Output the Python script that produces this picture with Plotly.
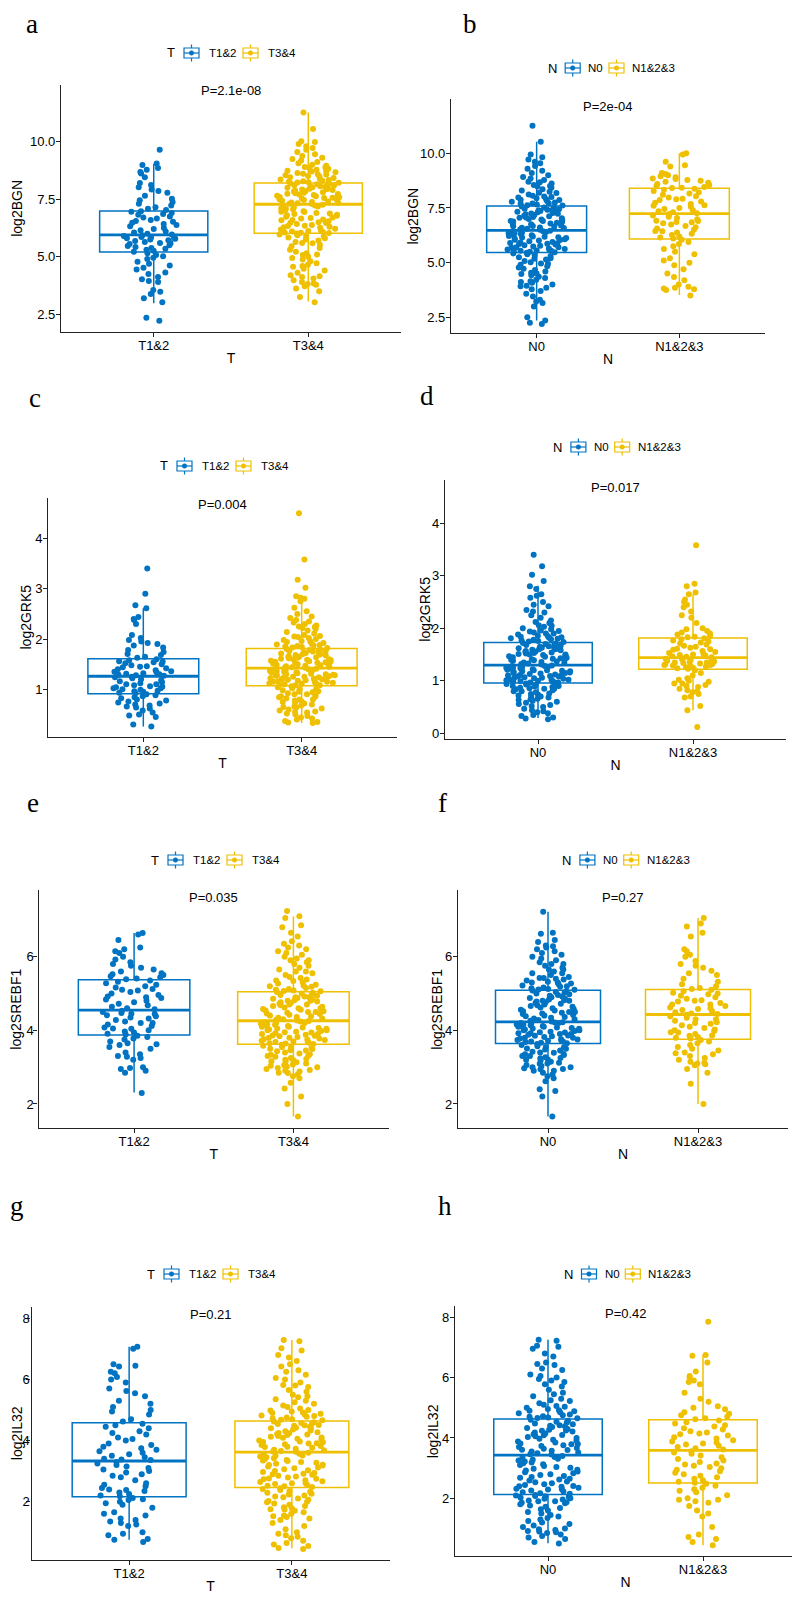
import plotly.graph_objects as go

# page body has an 8px default margin; the figure is sized to fill the rest of the window
OFF = 8
W, H = 792, 1591
BLUE = "#0073C2"
YELLOW = "#EFC000"
COLORS = [BLUE, YELLOW]
SANS = "Liberation Sans, Arial, sans-serif"
SERIF = "Liberation Serif, Times New Roman, serif"

# ---------------- categories ----------------
T_GROUPS = ["T1&2", "T3&4"]
N_GROUPS = ["N0", "N1&2&3"]
P_LABELS = ["P=2.1e-08", "P=2e-04", "P=0.004", "P=0.017", "P=0.035", "P=0.27", "P=0.21", "P=0.42"]

# ---------------- box statistics [group1, group2] ----------------
BGN_T_Q1 = [5.20, 6.02]; BGN_T_MED = [5.95, 7.28]; BGN_T_Q3 = [6.99, 8.20]; BGN_T_LO = [2.98, 3.05]; BGN_T_HI = [9.03, 11.27]
BGN_N_Q1 = [5.47, 6.08]; BGN_N_MED = [6.48, 7.24]; BGN_N_Q3 = [7.59, 8.40]; BGN_N_LO = [2.35, 3.52]; BGN_N_HI = [10.53, 10.00]
GRK_T_Q1 = [0.91, 1.07]; GRK_T_MED = [1.26, 1.42]; GRK_T_Q3 = [1.61, 1.81]; GRK_T_LO = [0.26, 0.33]; GRK_T_HI = [2.61, 2.85]
GRK_N_Q1 = [0.96, 1.22]; GRK_N_MED = [1.30, 1.44]; GRK_N_Q3 = [1.73, 1.815]; GRK_N_LO = [0.29, 0.44]; GRK_N_HI = [2.81, 2.65]
SRE_T_Q1 = [3.87, 3.62]; SRE_T_MED = [4.55, 4.26]; SRE_T_Q3 = [5.37, 5.05]; SRE_T_LO = [2.31, 1.66]; SRE_T_HI = [6.64, 7.09]
SRE_N_Q1 = [3.64, 3.76]; SRE_N_MED = [4.23, 4.43]; SRE_N_Q3 = [5.09, 5.11]; SRE_N_LO = [1.66, 2.00]; SRE_N_HI = [7.22, 7.05]
IL_T_Q1 = [2.16, 2.46]; IL_T_MED = [3.33, 3.62]; IL_T_Q3 = [4.585, 4.64]; IL_T_LO = [0.75, 0.475]; IL_T_HI = [7.07, 7.29]
IL_N_Q1 = [2.13, 2.51]; IL_N_MED = [3.43, 3.59]; IL_N_Q3 = [4.63, 4.60]; IL_N_LO = [0.51, 0.45]; IL_N_HI = [7.25, 6.75]

# ---------------- individual points ----------------
BGN_T12 = [9.65, 9.05, 8.98, 8.85, 8.78, 8.68, 8.62, 8.45, 8.2, 8.12, 8.02, 7.92, 7.85, 7.78, 7.65, 7.52, 7.45, 7.38, 7.3, 7.22, 7.15, 7.08, 7.03,
           6.98, 6.95, 6.9, 6.86, 6.82, 6.75, 6.7, 6.66, 6.6, 6.55, 6.52, 6.48, 6.42, 6.38, 6.32, 6.25, 6.2, 6.15, 6.1, 6.05, 6.0, 5.97,
           5.93, 5.9, 5.86, 5.83, 5.8, 5.78, 5.75, 5.72, 5.68, 5.64, 5.6, 5.55, 5.5, 5.47, 5.42, 5.38, 5.35, 5.3, 5.26, 5.22, 5.8, 5.58,
           5.15, 5.08, 5.02, 4.96, 4.9, 4.78, 4.7, 4.62, 4.52, 4.45, 4.32, 4.25, 4.12, 4.02, 3.95, 3.9, 3.55, 3.48, 3.38, 3.2, 3.02, 2.35, 2.22]
BGN_T34 = [11.27, 10.55, 10.02, 9.98, 9.9, 9.8, 9.72, 9.65, 9.55, 9.45, 9.38, 9.3, 9.25, 9.18, 9.12, 9.06, 9.0, 8.95, 8.9, 8.86, 8.82, 8.78, 8.74, 8.7, 8.67, 8.64, 8.6, 8.57, 8.54, 8.51, 8.48, 8.45, 8.42, 8.39, 8.36, 8.33, 8.3, 8.28, 8.26, 8.24, 8.22, 8.21, 8.72, 8.58, 8.88,
           8.19, 8.17, 8.15, 8.13, 8.11, 8.09, 8.06, 8.04, 8.02, 8.0, 7.97, 7.95, 7.93, 7.9, 7.88, 7.86, 7.83, 7.8, 7.78, 7.76, 7.73, 7.7, 7.68, 7.66, 7.63, 7.6, 7.58, 7.56, 7.53, 7.5, 7.48, 7.46, 7.43, 7.4, 7.38, 7.36, 7.34, 7.32, 7.3, 7.29, 7.92, 7.74, 7.55, 8.05, 7.65,
           7.26, 7.22, 7.18, 7.14, 7.1, 7.06, 7.02, 6.98, 6.94, 6.9, 6.86, 6.82, 6.78, 6.74, 6.7, 6.66, 6.62, 6.58, 6.54, 6.5, 6.46, 6.42, 6.38, 6.34, 6.3, 6.26, 6.22, 6.18, 6.14, 6.1, 6.07, 6.04, 6.03, 7.08, 6.88, 6.68, 6.48, 6.28, 6.12, 7.2, 6.95, 6.6, 6.35, 6.05, 6.8,
           6.01, 5.97, 5.93, 5.88, 5.84, 5.8, 5.75, 5.7, 5.64, 5.58, 5.52, 5.45, 5.38, 5.3, 5.22, 5.15, 5.08, 5.0, 4.94, 4.88, 4.8, 4.72, 4.65, 4.56, 4.48, 4.4, 4.3, 4.2, 4.12, 4.05, 3.98, 3.9, 3.84, 3.78, 3.72, 3.62, 3.5, 3.25, 3.02, 5.9, 5.6, 5.1, 4.6, 4.15, 3.82]
BGN_N0 = [11.26, 10.53, 9.95, 9.82, 9.72, 9.62, 9.55, 9.3, 9.2, 9.1, 9.0, 8.92, 8.85, 8.78, 8.7, 8.62, 8.55, 8.48, 8.42, 8.36, 8.3, 8.24, 8.18, 8.12, 8.06, 8.02, 7.98, 7.94, 7.9, 7.86, 7.82, 7.78, 7.75, 7.72, 7.69, 7.66, 7.63, 7.61, 8.5, 8.2, 7.88, 8.68, 9.42, 8.0, 7.7,
          7.57, 7.55, 7.52, 7.5, 7.47, 7.44, 7.42, 7.39, 7.36, 7.33, 7.3, 7.27, 7.24, 7.21, 7.18, 7.15, 7.12, 7.09, 7.06, 7.03, 7.0, 6.97, 6.94, 6.91, 6.88, 6.85, 6.82, 6.79, 6.76, 6.73, 6.7, 6.67, 6.64, 6.61, 6.58, 6.55, 6.52, 6.5, 7.25, 7.05, 6.9, 6.68, 7.4, 6.6, 7.32,
          6.46, 6.44, 6.42, 6.4, 6.37, 6.34, 6.31, 6.28, 6.25, 6.22, 6.19, 6.16, 6.13, 6.1, 6.07, 6.04, 6.01, 5.98, 5.95, 5.92, 5.89, 5.86, 5.83, 5.8, 5.77, 5.74, 5.71, 5.68, 5.65, 5.62, 5.6, 5.58, 5.56, 5.54, 5.52, 5.5, 5.48, 6.2, 5.9, 5.7, 6.35, 6.05, 5.85, 5.55, 6.15,
          5.45, 5.42, 5.38, 5.34, 5.3, 5.25, 5.2, 5.14, 5.08, 5.02, 4.96, 4.9, 4.84, 4.78, 4.72, 4.66, 4.6, 4.54, 4.48, 4.42, 4.36, 4.3, 4.22, 4.15, 4.08, 4.0, 3.92, 3.85, 3.78, 3.7, 3.58, 3.45, 3.3, 3.22, 3.15, 3.0, 2.5, 2.35, 2.25, 2.2, 4.95, 4.5, 4.12, 5.18, 3.95]
BGN_N123 = [10.0, 9.95, 9.62, 9.45, 9.4, 9.1, 9.05, 9.0, 8.95, 8.9, 8.85, 8.82, 8.78, 8.74, 8.7, 8.65, 8.6, 8.55, 8.5, 8.46, 8.43, 8.41,
            8.38, 8.33, 8.28, 8.22, 8.16, 8.1, 8.04, 7.98, 7.92, 7.86, 7.8, 7.74, 7.68, 7.62, 7.56, 7.5, 7.45, 7.4, 7.35, 7.3, 7.26, 7.9, 7.6,
            7.22, 7.16, 7.1, 7.04, 6.98, 6.92, 6.86, 6.8, 6.74, 6.68, 6.62, 6.56, 6.5, 6.44, 6.38, 6.32, 6.26, 6.2, 6.15, 6.1, 6.85, 6.45, 6.9,
            6.05, 5.95, 5.85, 5.75, 5.62, 5.5, 5.38, 5.2, 5.1, 5.0, 4.88, 4.7, 4.5, 4.35, 4.2, 4.0, 3.9, 3.85, 3.82, 3.78, 3.75, 3.5]

GRK_T12 = [3.4, 2.9, 2.67, 2.61, 2.44, 2.4, 2.38, 2.3, 2.08, 2.02, 1.98, 1.95, 1.92, 1.9, 1.87, 1.83, 1.78, 1.74, 1.7, 1.68, 1.65, 1.63,
           1.6, 1.58, 1.56, 1.54, 1.52, 1.5, 1.48, 1.46, 1.44, 1.42, 1.4, 1.38, 1.36, 1.34, 1.32, 1.31, 1.3, 1.29, 1.28, 1.27, 1.45, 1.35, 1.55,
           1.25, 1.24, 1.22, 1.2, 1.18, 1.16, 1.14, 1.12, 1.1, 1.08, 1.06, 1.05, 1.04, 1.02, 1.0, 0.99, 0.97, 0.96, 0.95, 0.93, 0.92, 1.1, 1.02,
           0.9, 0.88, 0.86, 0.84, 0.82, 0.8, 0.78, 0.76, 0.74, 0.72, 0.7, 0.68, 0.66, 0.64, 0.62, 0.58, 0.54, 0.5, 0.48, 0.45, 0.3, 0.26]
GRK_T34 = [4.5, 3.58, 3.18, 3.02, 2.85, 2.82, 2.8, 2.75, 2.62, 2.55, 2.5, 2.45, 2.42, 2.38, 2.33, 2.3, 2.27, 2.24, 2.22, 2.2, 2.17, 2.14, 2.11, 2.08, 2.06, 2.04, 2.02, 2.0, 1.98, 1.96, 1.94, 1.92, 1.9, 1.89, 1.88, 1.87, 1.86, 1.85, 1.84, 1.83, 1.82, 2.25, 2.05, 1.95, 2.35,
           1.8, 1.79, 1.78, 1.77, 1.76, 1.75, 1.74, 1.73, 1.72, 1.71, 1.7, 1.69, 1.68, 1.67, 1.66, 1.65, 1.64, 1.63, 1.62, 1.61, 1.6, 1.59, 1.58, 1.57, 1.56, 1.55, 1.54, 1.53, 1.52, 1.51, 1.5, 1.49, 1.48, 1.47, 1.46, 1.45, 1.44, 1.43, 1.43, 1.7, 1.6, 1.5, 1.65, 1.55, 1.75,
           1.41, 1.4, 1.39, 1.38, 1.37, 1.36, 1.35, 1.34, 1.33, 1.32, 1.31, 1.3, 1.29, 1.28, 1.27, 1.26, 1.25, 1.24, 1.23, 1.22, 1.21, 1.2, 1.19, 1.18, 1.17, 1.16, 1.15, 1.14, 1.13, 1.12, 1.11, 1.1, 1.09, 1.08, 1.08, 1.3, 1.2, 1.15, 1.35, 1.25, 1.1, 1.38, 1.22, 1.28, 1.12,
           1.06, 1.04, 1.02, 1.0, 0.98, 0.96, 0.94, 0.92, 0.9, 0.88, 0.86, 0.84, 0.82, 0.8, 0.78, 0.76, 0.74, 0.72, 0.7, 0.68, 0.66, 0.64, 0.62, 0.6, 0.58, 0.56, 0.54, 0.52, 0.5, 0.47, 0.44, 0.42, 0.4, 0.37, 0.35, 0.34, 0.33, 0.95, 0.85, 0.75, 0.65, 0.55, 1.0, 0.9, 0.8]
GRK_N0 = [3.4, 3.18, 3.02, 2.9, 2.8, 2.75, 2.65, 2.62, 2.58, 2.45, 2.42, 2.35, 2.32, 2.3, 2.25, 2.2, 2.15, 2.1, 2.06, 2.03, 2.0, 1.98, 1.96, 1.94, 1.92, 1.9, 1.88, 1.86, 1.84, 1.83, 1.82, 1.81, 1.8, 1.79, 1.78, 1.77, 1.76, 1.75, 1.74, 1.95, 1.85, 2.05, 2.12, 1.9, 2.5,
          1.72, 1.71, 1.7, 1.69, 1.68, 1.67, 1.66, 1.65, 1.64, 1.63, 1.62, 1.61, 1.6, 1.59, 1.58, 1.57, 1.56, 1.55, 1.54, 1.53, 1.52, 1.51, 1.5, 1.49, 1.48, 1.47, 1.46, 1.45, 1.44, 1.43, 1.42, 1.41, 1.4, 1.39, 1.38, 1.37, 1.36, 1.35, 1.34, 1.33, 1.32, 1.31, 1.6, 1.5, 1.4,
          1.29, 1.28, 1.27, 1.26, 1.25, 1.24, 1.23, 1.22, 1.21, 1.2, 1.19, 1.18, 1.17, 1.16, 1.15, 1.14, 1.13, 1.12, 1.11, 1.1, 1.09, 1.08, 1.07, 1.06, 1.05, 1.04, 1.03, 1.02, 1.01, 1.0, 0.99, 0.98, 0.97, 0.97, 1.2, 1.1, 1.0, 1.25, 1.15, 1.05, 0.98, 1.18, 1.08, 1.28, 1.02,
          0.95, 0.94, 0.93, 0.92, 0.91, 0.9, 0.89, 0.88, 0.87, 0.86, 0.85, 0.84, 0.82, 0.8, 0.78, 0.76, 0.74, 0.72, 0.7, 0.68, 0.66, 0.64, 0.62, 0.6, 0.58, 0.56, 0.54, 0.52, 0.5, 0.47, 0.44, 0.42, 0.4, 0.38, 0.35, 0.33, 0.3, 0.28, 0.27, 0.9, 0.85, 0.8, 0.75, 0.7, 0.65]
GRK_N123 = [3.58, 2.85, 2.8, 2.68, 2.65, 2.55, 2.5, 2.45, 2.4, 2.32, 2.25, 2.2, 2.1, 2.0, 1.98, 1.95, 1.92, 1.9, 1.88, 1.86, 1.84, 1.83,
            1.81, 1.79, 1.77, 1.75, 1.73, 1.71, 1.69, 1.67, 1.65, 1.63, 1.61, 1.59, 1.57, 1.55, 1.53, 1.51, 1.5, 1.49, 1.48, 1.47, 1.46, 1.45, 1.6,
            1.43, 1.42, 1.41, 1.4, 1.39, 1.38, 1.37, 1.36, 1.35, 1.34, 1.33, 1.32, 1.31, 1.3, 1.29, 1.28, 1.27, 1.26, 1.25, 1.24, 1.23, 1.35, 1.3,
            1.2, 1.15, 1.1, 1.05, 1.02, 1.0, 0.98, 0.95, 0.92, 0.9, 0.88, 0.85, 0.82, 0.8, 0.78, 0.75, 0.7, 0.68, 0.52, 0.44, 0.12, 0.95]

SRE_T12 = [6.64, 6.6, 6.45, 6.25, 6.2, 6.15, 6.1, 6.0, 5.92, 5.85, 5.8, 5.75, 5.7, 5.65, 5.6, 5.55, 5.52, 5.5, 5.47, 5.44, 5.41, 5.39,
           5.35, 5.32, 5.28, 5.24, 5.2, 5.16, 5.12, 5.08, 5.04, 5.0, 4.96, 4.92, 4.88, 4.84, 4.8, 4.76, 4.72, 4.68, 4.64, 4.6, 4.57, 5.1, 4.9,
           4.53, 4.5, 4.47, 4.44, 4.41, 4.38, 4.35, 4.32, 4.28, 4.24, 4.2, 4.16, 4.12, 4.08, 4.04, 4.0, 3.97, 3.94, 3.91, 3.89, 4.45, 4.2, 4.05,
           3.85, 3.82, 3.78, 3.75, 3.7, 3.65, 3.6, 3.55, 3.5, 3.4, 3.35, 3.3, 3.28, 3.25, 3.2, 3.0, 2.98, 2.95, 2.9, 2.85, 2.3, 3.62]
SRE_T34 = [7.24, 7.1, 7.05, 6.85, 6.8, 6.65, 6.55, 6.42, 6.35, 6.3, 6.25, 6.2, 6.15, 6.1, 6.05, 6.0, 5.95, 5.9, 5.85, 5.8, 5.75, 5.7, 5.65, 5.6, 5.55, 5.5, 5.45, 5.42, 5.38, 5.34, 5.3, 5.27, 5.24, 5.21, 5.18, 5.15, 5.12, 5.1, 5.08, 5.07, 5.06, 5.6, 5.35, 5.9, 5.2,
           5.04, 5.02, 5.0, 4.98, 4.96, 4.94, 4.92, 4.9, 4.88, 4.86, 4.84, 4.82, 4.8, 4.78, 4.76, 4.74, 4.72, 4.7, 4.68, 4.66, 4.64, 4.62, 4.6, 4.58, 4.56, 4.54, 4.52, 4.5, 4.48, 4.46, 4.44, 4.42, 4.4, 4.38, 4.36, 4.34, 4.32, 4.3, 4.28, 4.27, 4.9, 4.7, 4.5, 4.8, 4.6,
           4.25, 4.24, 4.22, 4.2, 4.18, 4.16, 4.14, 4.12, 4.1, 4.08, 4.06, 4.04, 4.02, 4.0, 3.98, 3.96, 3.94, 3.92, 3.9, 3.88, 3.86, 3.84, 3.82, 3.8, 3.78, 3.76, 3.74, 3.72, 3.7, 3.68, 3.66, 3.64, 3.63, 4.1, 3.9, 3.7, 4.2, 4.0, 3.8, 4.15, 3.95, 3.75, 4.05, 3.85, 3.65,
           3.61, 3.58, 3.55, 3.52, 3.49, 3.46, 3.43, 3.4, 3.37, 3.34, 3.31, 3.28, 3.25, 3.22, 3.19, 3.16, 3.13, 3.1, 3.07, 3.04, 3.01, 2.98, 2.95, 2.92, 2.88, 2.84, 2.8, 2.75, 2.7, 2.42, 2.2, 2.0, 1.66, 3.5, 3.3, 3.2, 3.0, 2.9, 3.45, 3.35, 3.15, 2.85, 3.55, 3.05, 2.58]
SRE_N0 = [7.22, 6.62, 6.65, 6.45, 6.4, 6.3, 6.28, 6.25, 6.2, 6.15, 6.1, 6.05, 6.0, 5.95, 5.9, 5.85, 5.8, 5.75, 5.7, 5.65, 5.6, 5.55, 5.5, 5.45, 5.42, 5.4, 5.38, 5.35, 5.32, 5.3, 5.27, 5.25, 5.22, 5.2, 5.18, 5.16, 5.14, 5.12, 5.11, 5.1, 5.55, 5.8, 5.3, 5.65, 5.42,
          5.08, 5.06, 5.04, 5.02, 5.0, 4.98, 4.96, 4.94, 4.92, 4.9, 4.88, 4.86, 4.84, 4.82, 4.8, 4.78, 4.76, 4.74, 4.72, 4.7, 4.68, 4.66, 4.64, 4.62, 4.6, 4.58, 4.56, 4.54, 4.52, 4.5, 4.48, 4.46, 4.44, 4.42, 4.4, 4.38, 4.36, 4.34, 4.32, 4.3, 4.28, 4.26, 4.24, 4.8, 4.5,
          4.22, 4.21, 4.2, 4.18, 4.16, 4.14, 4.12, 4.1, 4.08, 4.06, 4.04, 4.02, 4.0, 3.98, 3.96, 3.94, 3.92, 3.9, 3.88, 3.86, 3.84, 3.82, 3.8, 3.78, 3.76, 3.74, 3.72, 3.7, 3.68, 3.66, 3.65, 4.1, 3.9, 3.7, 4.0, 3.8, 4.15, 3.95, 3.75, 4.05, 3.85, 4.2, 3.72, 3.92, 4.12,
          3.63, 3.6, 3.57, 3.54, 3.51, 3.48, 3.45, 3.42, 3.39, 3.36, 3.33, 3.3, 3.27, 3.24, 3.21, 3.18, 3.15, 3.12, 3.09, 3.06, 3.03, 3.0, 2.97, 2.94, 2.9, 2.85, 2.8, 2.75, 2.7, 2.62, 2.4, 2.35, 2.2, 1.66, 3.5, 3.4, 3.3, 3.2, 3.1, 3.0, 2.9, 3.55, 3.25, 2.95, 3.35]
SRE_N123 = [7.05, 6.9, 6.82, 6.65, 6.55, 6.2, 6.15, 6.05, 6.0, 5.88, 5.8, 5.75, 5.7, 5.62, 5.55, 5.5, 5.4, 5.32, 5.25, 5.2, 5.15, 5.12,
            5.1, 5.06, 5.02, 4.98, 4.94, 4.9, 4.86, 4.82, 4.78, 4.74, 4.7, 4.66, 4.62, 4.58, 4.55, 4.52, 4.49, 4.46, 4.44, 4.8, 4.6, 5.0, 4.7,
            4.42, 4.38, 4.34, 4.3, 4.26, 4.22, 4.18, 4.14, 4.1, 4.06, 4.02, 3.98, 3.94, 3.9, 3.86, 3.82, 3.78, 4.3, 4.0, 3.85, 4.2, 3.95, 3.8,
            3.74, 3.7, 3.65, 3.6, 3.55, 3.5, 3.45, 3.4, 3.35, 3.3, 3.25, 3.2, 3.15, 3.12, 3.1, 3.08, 3.05, 2.95, 2.85, 2.55, 2.0, 3.38]

IL_T12 = [7.07, 7.0, 6.5, 6.45, 6.42, 6.25, 6.2, 6.08, 6.0, 5.9, 5.7, 5.62, 5.55, 5.45, 5.3, 5.2, 5.1, 5.0, 4.95, 4.85, 4.7, 4.62,
          4.55, 4.5, 4.45, 4.3, 4.25, 4.2, 4.1, 4.05, 4.0, 3.9, 3.85, 3.75, 3.7, 3.65, 3.6, 3.55, 3.5, 3.45, 3.4, 3.38, 3.36, 4.4, 3.8,
          3.3, 3.25, 3.2, 3.1, 3.05, 3.0, 2.95, 2.9, 2.85, 2.8, 2.7, 2.6, 2.55, 2.5, 2.45, 2.4, 2.35, 2.3, 2.25, 2.2, 2.18, 3.15, 2.38,
          2.12, 2.08, 2.05, 2.0, 1.95, 1.9, 1.8, 1.65, 1.6, 1.55, 1.45, 1.4, 1.35, 1.3, 1.25, 1.2, 1.0, 0.95, 0.9, 0.78, 0.75, 0.68]
IL_T34 = [7.29, 7.25, 7.02, 6.95, 6.8, 6.72, 6.6, 6.5, 6.42, 6.25, 6.15, 6.05, 6.0, 5.9, 5.82, 5.75, 5.65, 5.6, 5.5, 5.42, 5.35, 5.3, 5.25, 5.2, 5.15, 5.1, 5.05, 5.0, 4.98, 4.95, 4.92, 4.9, 4.88, 4.85, 4.82, 4.8, 4.78, 4.75, 4.72, 4.7, 4.68, 4.66, 5.8, 5.45, 6.3,
          4.62, 4.6, 4.57, 4.54, 4.51, 4.48, 4.45, 4.42, 4.39, 4.36, 4.33, 4.3, 4.27, 4.24, 4.21, 4.18, 4.15, 4.12, 4.09, 4.06, 4.03, 4.0, 3.97, 3.94, 3.91, 3.88, 3.85, 3.82, 3.79, 3.76, 3.73, 3.7, 3.68, 3.66, 3.64, 3.63, 4.5, 4.2, 3.9, 4.4, 4.1, 3.8, 4.55, 4.25, 3.95,
          3.6, 3.57, 3.54, 3.51, 3.48, 3.45, 3.42, 3.39, 3.36, 3.33, 3.3, 3.27, 3.24, 3.21, 3.18, 3.15, 3.12, 3.09, 3.06, 3.03, 3.0, 2.97, 2.94, 2.91, 2.88, 2.85, 2.82, 2.79, 2.76, 2.73, 2.7, 2.67, 2.64, 2.61, 2.58, 2.55, 2.52, 2.5, 2.48, 3.5, 3.2, 2.9, 2.6, 3.35, 2.75,
          2.44, 2.41, 2.38, 2.35, 2.32, 2.29, 2.26, 2.23, 2.2, 2.17, 2.14, 2.1, 2.06, 2.02, 1.98, 1.94, 1.9, 1.86, 1.82, 1.78, 1.74, 1.7, 1.65, 1.6, 1.55, 1.5, 1.45, 1.4, 1.3, 1.2, 1.1, 1.0, 0.95, 0.9, 0.85, 0.8, 0.72, 0.65, 0.6, 0.55, 0.48, 0.45, 2.0, 1.75, 1.52]
IL_N0 = [7.25, 7.22, 7.05, 7.02, 6.95, 6.8, 6.7, 6.5, 6.45, 6.42, 6.25, 6.1, 6.0, 5.95, 5.85, 5.78, 5.7, 5.6, 5.5, 5.38, 5.3, 5.22, 5.15, 5.1, 5.06, 5.03, 5.0, 4.96, 4.92, 4.88, 4.85, 4.82, 4.78, 4.75, 4.72, 4.7, 4.68, 4.66, 4.65, 5.9, 5.45, 6.3, 5.25, 4.9, 6.05,
         4.6, 4.57, 4.54, 4.51, 4.48, 4.45, 4.42, 4.39, 4.36, 4.33, 4.3, 4.27, 4.24, 4.21, 4.18, 4.15, 4.12, 4.09, 4.06, 4.03, 4.0, 3.97, 3.94, 3.91, 3.88, 3.85, 3.82, 3.79, 3.76, 3.73, 3.7, 3.67, 3.64, 3.61, 3.58, 3.55, 3.52, 3.49, 3.46, 3.45, 4.4, 4.1, 3.8, 3.6, 4.25,
         3.4, 3.37, 3.34, 3.31, 3.28, 3.25, 3.22, 3.19, 3.16, 3.13, 3.1, 3.07, 3.04, 3.01, 2.98, 2.95, 2.92, 2.89, 2.86, 2.83, 2.8, 2.77, 2.74, 2.71, 2.68, 2.65, 2.62, 2.59, 2.56, 2.53, 2.5, 2.47, 2.44, 2.41, 2.38, 2.35, 2.32, 2.29, 2.26, 2.23, 2.2, 2.17, 2.15, 2.3, 2.4,
         2.11, 2.09, 2.07, 2.05, 2.02, 1.99, 1.96, 1.93, 1.9, 1.87, 1.84, 1.8, 1.76, 1.72, 1.68, 1.64, 1.6, 1.55, 1.5, 1.45, 1.4, 1.35, 1.3, 1.25, 1.2, 1.15, 1.1, 1.05, 1.0, 0.98, 0.95, 0.92, 0.9, 0.88, 0.85, 0.8, 0.75, 0.7, 0.65, 0.55, 0.5, 2.0, 1.85, 1.9, 2.08]
IL_N123 = [7.85, 6.75, 6.72, 6.5, 6.2, 6.05, 6.0, 5.9, 5.85, 5.78, 5.5, 5.3, 5.2, 5.05, 5.0, 4.95, 4.85, 4.8, 4.75, 4.7, 4.65, 4.62,
           4.58, 4.52, 4.48, 4.42, 4.38, 4.32, 4.28, 4.22, 4.18, 4.12, 4.08, 4.02, 3.98, 3.92, 3.88, 3.82, 3.78, 3.74, 3.7, 3.66, 3.62, 4.15, 3.85,
           3.56, 3.52, 3.48, 3.42, 3.36, 3.3, 3.25, 3.2, 3.12, 3.08, 3.04, 3.0, 2.95, 2.9, 2.85, 2.8, 2.75, 2.7, 2.65, 2.6, 2.55, 2.52, 3.15,
           2.48, 2.42, 2.35, 2.3, 2.25, 2.2, 2.1, 2.0, 1.95, 1.9, 1.85, 1.75, 1.6, 1.5, 1.4, 1.05, 0.8, 0.72, 0.65, 0.55, 0.45, 1.95]

# ---------------- panel definitions ----------------
PANELS = [
    dict(letter="a", var="T", groups=T_GROUPS, ytitle="log2BGN", pts=[BGN_T12, BGN_T34],
         stats=[BGN_T_Q1, BGN_T_MED, BGN_T_Q3, BGN_T_LO, BGN_T_HI]),
    dict(letter="b", var="N", groups=N_GROUPS, ytitle="log2BGN", pts=[BGN_N0, BGN_N123],
         stats=[BGN_N_Q1, BGN_N_MED, BGN_N_Q3, BGN_N_LO, BGN_N_HI]),
    dict(letter="c", var="T", groups=T_GROUPS, ytitle="log2GRK5", pts=[GRK_T12, GRK_T34],
         stats=[GRK_T_Q1, GRK_T_MED, GRK_T_Q3, GRK_T_LO, GRK_T_HI]),
    dict(letter="d", var="N", groups=N_GROUPS, ytitle="log2GRK5", pts=[GRK_N0, GRK_N123],
         stats=[GRK_N_Q1, GRK_N_MED, GRK_N_Q3, GRK_N_LO, GRK_N_HI]),
    dict(letter="e", var="T", groups=T_GROUPS, ytitle="log2SREBF1", pts=[SRE_T12, SRE_T34],
         stats=[SRE_T_Q1, SRE_T_MED, SRE_T_Q3, SRE_T_LO, SRE_T_HI]),
    dict(letter="f", var="N", groups=N_GROUPS, ytitle="log2SREBF1", pts=[SRE_N0, SRE_N123],
         stats=[SRE_N_Q1, SRE_N_MED, SRE_N_Q3, SRE_N_LO, SRE_N_HI]),
    dict(letter="g", var="T", groups=T_GROUPS, ytitle="log2IL32", pts=[IL_T12, IL_T34],
         stats=[IL_T_Q1, IL_T_MED, IL_T_Q3, IL_T_LO, IL_T_HI]),
    dict(letter="h", var="N", groups=N_GROUPS, ytitle="log2IL32", pts=[IL_N0, IL_N123],
         stats=[IL_N_Q1, IL_N_MED, IL_N_Q3, IL_N_LO, IL_N_HI]),
]

# layout geometry in window pixels: plot box (x0, x1, ytop, ybottom), y range, ticks,
# P-label y (data units), legend title centre, panel letter (centre x, baseline y or None=top),
# y-title centre x, y tick-label standoff
GEOM = [
    dict(box=(61, 401, 85, 332), yr=(1.73, 12.46), tv=[2.5, 5, 7.5, 10], tf=".1f", py=12.2, leg=(171, 53), let=(32, None), ytx=17.3, tls=-2),
    dict(box=(451, 765, 99.3, 333.3), yr=(1.77, 12.47), tv=[2.5, 5, 7.5, 10], tf=".1f", py=12.16, leg=(552, 68), let=(470, None), ytx=413.3, tls=-2),
    dict(box=(48.3, 396.7, 497.7, 737.3), yr=(0.046, 4.81), tv=[1, 2, 3, 4], tf="d", py=4.676, leg=(164, 466), let=(35, 407), ytx=25, tls=-2),
    dict(box=(445, 786, 480, 739.3), yr=(-0.114, 4.825), tv=[0, 1, 2, 3, 4], tf="d", py=4.69, leg=(557.7, 447), let=(427, 405), ytx=425, tls=-2),
    dict(box=(38.5, 389, 890, 1128.3), yr=(1.34, 7.81), tv=[2, 4, 6], tf="d", py=7.61, leg=(155, 860), let=(33, 812), ytx=16.5, tls=-3),
    dict(box=(458, 788, 890, 1128.3), yr=(1.34, 7.81), tv=[2, 4, 6], tf="d", py=7.61, leg=(566.7, 860), let=(443, 812), ytx=436.7, tls=-2),
    dict(box=(31.5, 389.5, 1307.3, 1560), yr=(0.09, 8.36), tv=[2, 4, 6, 8], tf="d", py=8.13, leg=(151, 1274), let=(16.5, 1215), ytx=16.5, tls=-6),
    dict(box=(455, 796, 1306, 1556), yr=(0.09, 8.37), tv=[2, 4, 6, 8], tf="d", py=8.13, leg=(568.3, 1274), let=(445, 1215), ytx=433.3, tls=-2),
]
# legend item offsets from the legend title centre: glyph1 centre, label1 left, glyph2 centre, label2 left
LEG_OFFSETS = {"T": (20.5, 36.5, 79.5, 95.5), "N": (20.7, 35.2, 64.5, 78.8)}
BOX_W = 0.7


def px_x(v):
    return (v - OFF) / W


def px_y(v):
    return 1 - (v - OFF) / H


fig = go.Figure()
layout = dict(
    width=W, height=H, margin=dict(l=0, r=0, t=0, b=0),
    paper_bgcolor="white", plot_bgcolor="white",
    font=dict(family=SANS, color="black"),
    boxmode="overlay", showlegend=False,
)
annotations = []
shapes = []


def legend_glyph(cx, cy, color):
    lw = 1.2
    out = []
    out.append(dict(type="rect", xref="paper", yref="paper",
                    x0=px_x(cx - 7.5), x1=px_x(cx + 7.5), y0=px_y(cy + 5), y1=px_y(cy - 5),
                    line=dict(color=color, width=lw), fillcolor="white"))
    out.append(dict(type="line", xref="paper", yref="paper",
                    x0=px_x(cx - 7.5), x1=px_x(cx + 7.5), y0=px_y(cy), y1=px_y(cy),
                    line=dict(color=color, width=lw)))
    out.append(dict(type="line", xref="paper", yref="paper",
                    x0=px_x(cx), x1=px_x(cx), y0=px_y(cy - 5), y1=px_y(cy - 8.5),
                    line=dict(color=color, width=lw)))
    out.append(dict(type="line", xref="paper", yref="paper",
                    x0=px_x(cx), x1=px_x(cx), y0=px_y(cy + 5), y1=px_y(cy + 8.5),
                    line=dict(color=color, width=lw)))
    out.append(dict(type="circle", xref="paper", yref="paper",
                    x0=px_x(cx - 2.3), x1=px_x(cx + 2.3), y0=px_y(cy + 2.3), y1=px_y(cy - 2.3),
                    line=dict(color=color, width=0.5), fillcolor=color))
    return out


for i, (pan, geo) in enumerate(zip(PANELS, GEOM)):
    k = i + 1
    xa = "x" if k == 1 else f"x{k}"
    ya = "y" if k == 1 else f"y{k}"
    x0, x1, yt, yb = geo["box"]
    layout["xaxis" if k == 1 else f"xaxis{k}"] = dict(
        domain=[px_x(x0), px_x(x1)], anchor=ya, type="linear",
        tickvals=[0, 1], ticktext=pan["groups"], range=[-0.6, 1.6],
        showline=True, linecolor="#222", linewidth=1.2, ticks="outside", ticklen=4,
        tickwidth=1.1, tickcolor="#222", showgrid=False, zeroline=False,
        tickfont=dict(size=13, color="black"), automargin=False, ticklabelstandoff=-3,
        title=dict(text=pan["var"], font=dict(size=14), standoff=1),
    )
    layout["yaxis" if k == 1 else f"yaxis{k}"] = dict(
        domain=[px_y(yb), px_y(yt)], anchor=xa, range=list(geo["yr"]),
        tickvals=geo["tv"], tickformat=geo["tf"],
        showline=True, linecolor="#222", linewidth=1.2, ticks="outside", ticklen=4,
        tickwidth=1.1, tickcolor="#222", showgrid=False, zeroline=False,
        tickfont=dict(size=13, color="black"), automargin=False, ticklabelstandoff=geo["tls"],
    )
    q1, med, q3, lo, hi = pan["stats"]
    for gi, g in enumerate(pan["groups"]):
        fig.add_trace(go.Box(
            x=[gi], q1=[q1[gi]], median=[med[gi]], q3=[q3[gi]],
            lowerfence=[lo[gi]], upperfence=[hi[gi]],
            name=g, width=BOX_W, whiskerwidth=0, boxpoints=False,
            line=dict(color=COLORS[gi], width=1.5), fillcolor="rgba(255,255,255,0)",
            xaxis=xa, yaxis=ya, showlegend=False, hoverinfo="skip",
        ))
        # thicker median bar (ggplot draws the median twice as thick), below the points
        shapes.append(dict(type="line", xref=xa, yref=ya, layer="below",
                           x0=gi - BOX_W / 2, x1=gi + BOX_W / 2, y0=med[gi], y1=med[gi],
                           line=dict(color=COLORS[gi], width=2.8)))
    for gi, g in enumerate(pan["groups"]):
        vals = pan["pts"][gi]
        fig.add_trace(go.Box(
            x=[gi] * len(vals), y=vals, name=g, width=BOX_W,
            boxpoints="all", jitter=0.6, pointpos=0, whiskerwidth=0,
            marker=dict(color=COLORS[gi], size=6, opacity=1),
            line=dict(color="rgba(0,0,0,0)", width=0), fillcolor="rgba(0,0,0,0)",
            xaxis=xa, yaxis=ya, showlegend=False, hoverinfo="y",
        ))
    # P value label
    annotations.append(dict(
        x=0.5, y=geo["py"], xref=xa, yref=ya, text=P_LABELS[i], showarrow=False,
        font=dict(size=13, color="black", family=SANS), xanchor="center", yanchor="middle",
    ))
    # y-axis title
    annotations.append(dict(
        x=px_x(geo["ytx"]), y=px_y((yt + yb) / 2), xref="paper", yref="paper", text=pan["ytitle"],
        textangle=-90, showarrow=False, font=dict(size=14, color="black", family=SANS),
        xanchor="center", yanchor="middle", borderpad=0,
    ))
    # panel letter
    lx2, lb = geo["let"]
    if lb is None:
        annotations.append(dict(
            x=px_x(lx2), y=1, xref="paper", yref="paper", text=pan["letter"],
            showarrow=False, font=dict(size=27, color="black", family=SERIF),
            xanchor="center", yanchor="top", borderpad=0,
        ))
    else:
        annotations.append(dict(
            x=px_x(lx2), y=px_y(lb - 9), xref="paper", yref="paper", text=pan["letter"],
            showarrow=False, font=dict(size=27, color="black", family=SERIF),
            xanchor="center", yanchor="middle", borderpad=0,
        ))
    # legend (title, two glyphs, two labels)
    tcx, tcy = geo["leg"]
    offs = LEG_OFFSETS[pan["var"]]
    annotations.append(dict(
        x=px_x(tcx), y=px_y(tcy), xref="paper", yref="paper", text=pan["var"],
        showarrow=False, font=dict(size=13, color="black", family=SANS),
        xanchor="center", yanchor="middle",
    ))
    for gi, g in enumerate(pan["groups"]):
        shapes.extend(legend_glyph(tcx + offs[2 * gi], tcy, COLORS[gi]))
        annotations.append(dict(
            x=px_x(tcx + offs[2 * gi + 1]), y=px_y(tcy), xref="paper", yref="paper", text=g,
            showarrow=False, font=dict(size=11.5, color="black", family=SANS),
            xanchor="left", yanchor="middle", borderpad=0,
        ))

layout["annotations"] = annotations
layout["shapes"] = shapes
fig.update_layout(**layout)
fig.write_html("out.html")
